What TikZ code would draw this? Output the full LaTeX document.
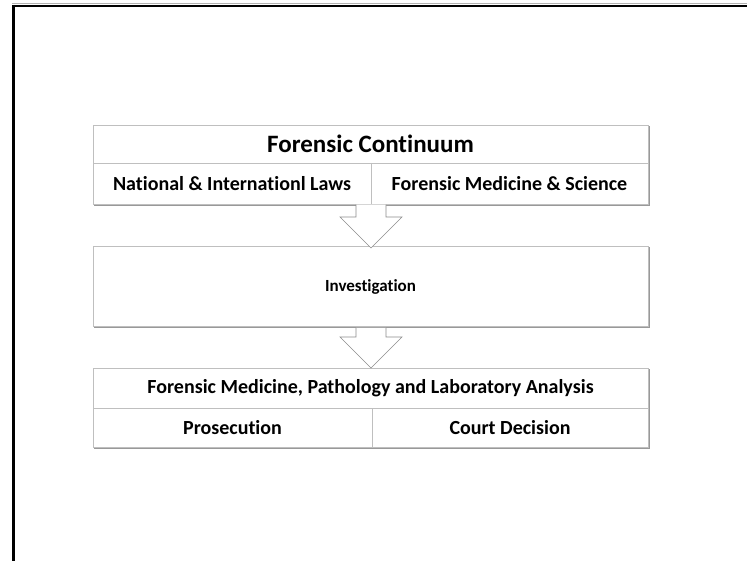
\documentclass[tikz,border=0pt]{standalone}
\usepackage{fontspec}
\setmainfont{Carlito}[Ligatures={NoCommon}]
\tikzset{
  boxline/.style={draw=black!25, line width=0.8pt},
  shadowline/.style={draw=black!40, line width=1.2pt},
  arrowshape/.style={draw=black!45, line width=0.6pt, fill=white},
  titletext/.style={font=\bfseries\fontsize{25}{28}\selectfont, inner sep=0pt},
  celltext/.style={font=\bfseries\fontsize{20}{23}\selectfont, inner sep=0pt},
  midtext/.style={font=\bfseries\fontsize{17}{20}\selectfont, inner sep=0pt},
}
\begin{document}
\begin{tikzpicture}[x=1pt,y=-1pt]
\useasboundingbox (0,0) rectangle (747,561);
% page frame
\draw[black!30, line width=0.8pt] (12,3.5) -- (747,3.5);
\draw[black, line width=2.4pt] (13.5,6) -- (747,6);
\draw[black, line width=2.4pt] (13.5,5) -- (13.5,561);

% box 1
\draw[shadowline] (94,205) -- (649,205) -- (649,126);
\draw[boxline] (93,125) rectangle (648,204);
\draw[boxline] (93,163) -- (648,163);
\draw[boxline] (371,163) -- (371,204);
\node[titletext] (t1) at (370.5,144) {Forensic Continuum};
\node[celltext] (t1a) at (232,183.5) {National \& Internationl Laws};
\node[celltext] (t1b) at (509.5,183.5) {Forensic Medicine \& Science};

% box 2
\draw[shadowline] (94,327) -- (649,327) -- (649,247);
\draw[boxline] (93,246) rectangle (648,326);
\node[midtext] (t2) at (370.5,287) {Investigation};

% box 3
\draw[shadowline] (94,448.5) -- (649,448.5) -- (649,369);
\draw[boxline] (93,368) rectangle (648,447.5);
\draw[boxline] (93,408) -- (648,408);
\draw[boxline] (372,408) -- (372,447.5);
\node[celltext] (t3) at (370.5,388.5) {Forensic Medicine, Pathology and Laboratory Analysis};
\node[celltext] (t3a) at (232.5,428) {Prosecution};
\node[celltext] (t3b) at (510,428) {Court Decision};

% arrows
\draw[arrowshape] (356,204.6) -- (356,217) -- (340,217) -- (371,248) -- (402,217) -- (386,217) -- (386,204.6);
\draw[arrowshape] (356,327.8) -- (356,337) -- (340,337) -- (371,368) -- (402,337) -- (386,337) -- (386,327.8);
\end{tikzpicture}
\end{document}
